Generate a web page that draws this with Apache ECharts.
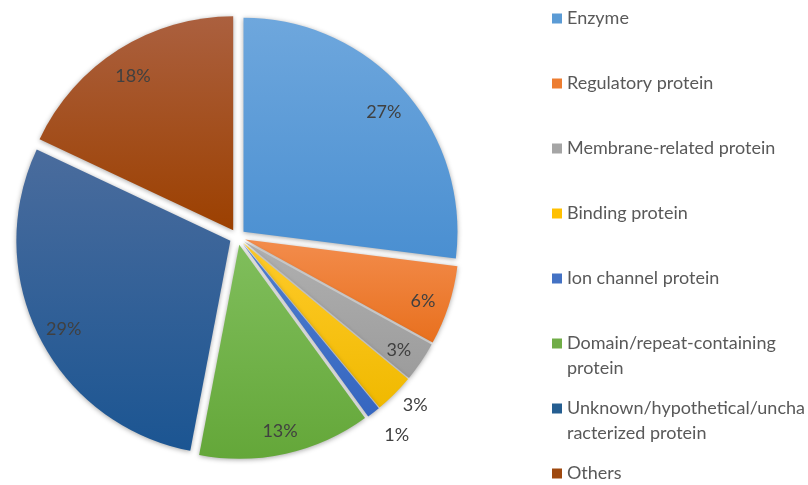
<!DOCTYPE html>
<html>
<head>
<meta charset="utf-8">
<script src="https://cdn.jsdelivr.net/npm/echarts@6/dist/echarts.min.js"></script>
<style>
  html, body { margin: 0; padding: 0; background: #ffffff; }
  #chart { width: 808px; height: 485px; }
</style>
</head>
<body>
<div id="chart"></div>
<script>
// Protein categories and their share of the total (%)
const categories = [
  'Enzyme',
  'Regulatory protein',
  'Membrane-related protein',
  'Binding protein',
  'Ion channel protein',
  'Domain/repeat-containing protein',
  'Unknown/hypothetical/uncharacterized protein',
  'Others'
];
const shares = [27, 6, 3, 3, 1, 13, 29, 18];

// Legend text as it wraps on screen
const legendLabels = [
  'Enzyme',
  'Regulatory protein',
  'Membrane-related protein',
  'Binding protein',
  'Ion channel protein',
  'Domain/repeat-containing\nprotein',
  'Unknown/hypothetical/uncha\nracterized protein',
  'Others'
];

// Flat colours for legend keys, gradient stops for the slices
const baseColors = ['#5B9BD5', '#ED7D31', '#A5A5A5', '#FFC000', '#4472C4', '#70AD47', '#255E91', '#9E480E'];
const topColors = ['#6EA7DD', '#F38C4C', '#B0B0B0', '#FFCB2A', '#4F7ECF', '#80BE5C', '#4A6C9D', '#AB603F'];
const bottomColors = ['#4A8FD1', '#E8701E', '#9C9C9C', '#F0B900', '#3566C0', '#64A739', '#1B5592', '#9C4000'];

// Thin slices labelled just outside the rim: leader length (hidden) and text gap
const outsideLabelled = ['Binding protein', 'Ion channel protein'];
const outsideLeader = [16, 29];
const outsideGap = [-3, -7];

const CENTER = [237.5, 237];
const R = 214;
const OFFSET = 8;
const FONT = 'Lato, "Open Sans", sans-serif';

const chart = echarts.init(document.getElementById('chart'), null, { renderer: 'canvas' });

const gradient = (i) => new echarts.graphic.LinearGradient(0, 0, 0, 1, [
  { offset: 0, color: topColors[i] },
  { offset: 1, color: bottomColors[i] }
]);

// Filled slices; the thinnest ones carry their own outside labels
const sliceData = categories.map((name, i) => {
  const k = outsideLabelled.indexOf(name);
  const item = {
    name,
    value: shares[i],
    selected: true,
    itemStyle: { color: gradient(i) }
  };
  if (k >= 0) {
    item.label = { show: true, distanceToLabelLine: outsideGap[k] };
    item.labelLine = { show: false, length: outsideLeader[k], length2: 0 };
  }
  return item;
});

// Transparent ring carrying the percentage labels inside the wider slices
const innerLabelData = categories.map((name, i) => ({
  name,
  value: shares[i],
  selected: true,
  label: { show: outsideLabelled.indexOf(name) < 0 }
}));

const labelText = {
  formatter: '{c}%',
  color: '#404040',
  fontSize: 18,
  fontFamily: FONT
};

const ringCommon = {
  type: 'pie',
  startAngle: 90,
  clockwise: true,
  selectedMode: 'multiple',
  selectedOffset: OFFSET,
  silent: true,
  animation: false,
  avoidLabelOverlap: false,
  emphasis: { disabled: true }
};

chart.setOption({
  backgroundColor: '#ffffff',
  animation: false,
  legend: {
    orient: 'vertical',
    left: 552,
    top: -19,
    height: 700,
    padding: 0,
    itemGap: -10,
    itemWidth: 10,
    itemHeight: 10,
    icon: 'rect',
    selectedMode: false,
    data: categories.map((name, i) => ({ name, itemStyle: { color: baseColors[i] } })),
    // three text rows per entry (blank, first line, second line or blank) keep
    // the key square level with the first line
    formatter: (name) => {
      const text = legendLabels[categories.indexOf(name)];
      return ' \n' + (text.indexOf('\n') >= 0 ? text : text + '\n ');
    },
    textStyle: {
      color: '#595959',
      fontSize: 18,
      lineHeight: 25,
      fontFamily: FONT
    }
  },
  series: [
    Object.assign({}, ringCommon, {
      name: 'slices',
      center: CENTER,
      radius: [0, R],
      label: Object.assign({ show: false, position: 'outside', alignTo: 'none' }, labelText),
      labelLine: { show: false },
      itemStyle: {
        shadowBlur: 5,
        shadowColor: 'rgba(0,0,0,0.35)',
        shadowOffsetY: 1
      },
      data: sliceData
    }),
    Object.assign({}, ringCommon, {
      name: 'inner labels',
      center: [CENTER[0], CENTER[1] + 4],
      radius: [R * 0.72, R],
      itemStyle: { color: 'rgba(0,0,0,0)' },
      label: Object.assign({ position: 'inside' }, labelText),
      labelLine: { show: false },
      data: innerLabelData
    })
  ]
});
</script>
</body>
</html>
